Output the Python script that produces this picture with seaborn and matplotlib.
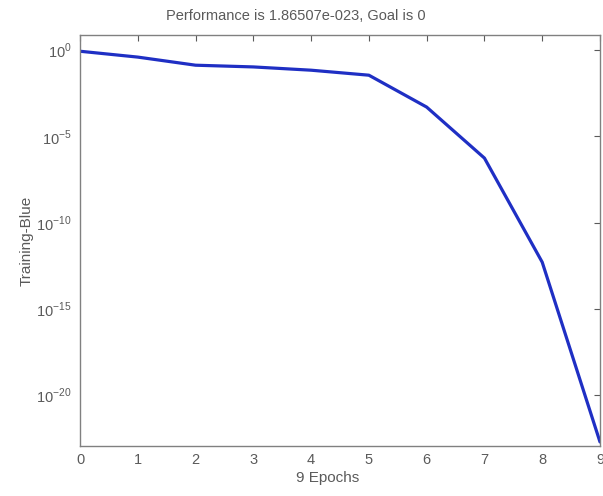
import numpy as np
import pandas as pd
import matplotlib
matplotlib.use("Agg")
import matplotlib.pyplot as plt
import seaborn as sns

# training performance per epoch (log10 values)
epochs = [0, 1, 2, 3, 4, 5, 6, 7, 8, 9]
log_perf = [-0.06, -0.4, -0.87, -0.97, -1.16, -1.45, -3.3, -6.26, -12.3, np.log10(1.86507e-23)]
ytick_exp = [0, -5, -10, -15, -20]
xtick_vals = [0, 1, 2, 3, 4, 5, 6, 7, 8, 9]

df = pd.DataFrame({'epoch': epochs, 'perf': [10.0 ** v for v in log_perf]})

sns.set_style("white")
plt.rcParams['font.family'] = ['Liberation Sans', 'DejaVu Sans']
plt.rcParams['mathtext.fontset'] = 'custom'
plt.rcParams['mathtext.rm'] = 'Liberation Sans'

grey = '#5a5a5a'
fig = plt.figure(figsize=(6.03, 4.96), dpi=100)
ax = fig.add_axes([0.1327, 0.101, 0.8623, 0.828])

sns.lineplot(data=df, x='epoch', y='perf', ax=ax, color='#1f2fc4', linewidth=2.3)
ax.set_yscale('log')
ax.set_xlim(0, 9)
ax.set_ylim(10 ** -22.96, 10 ** 0.87)

ax.set_xticks(xtick_vals)
ax.set_xticklabels([str(v) for v in xtick_vals])
ax.set_yticks([10.0 ** e for e in ytick_exp])
ax.set_yticklabels([r'$10^{%d}$' % e for e in ytick_exp])
ax.yaxis.set_minor_locator(matplotlib.ticker.NullLocator())

ax.tick_params(axis='both', direction='in', length=4, width=0.8, color=grey,
               labelcolor=grey, labelsize=10.5, top=True, right=True)
ax.tick_params(axis='x', pad=5)
ax.tick_params(axis='y', pad=6)
for s in ax.spines.values():
    s.set_color('#808080')
    s.set_linewidth(1.0)

# the source image is cropped on the right, so the texts sit left of the axes centre
ax.set_title('Performance is 1.86507e-023, Goal is 0', color=grey, fontsize=10.5, pad=11, x=0.415)
ax.set_xlabel('9 Epochs', color=grey, fontsize=11, labelpad=2)
ax.xaxis.set_label_coords(0.477, -0.06)
ax.set_ylabel('Training-Blue', color=grey, fontsize=11, labelpad=2)

fig.savefig('out.png', dpi=100)
